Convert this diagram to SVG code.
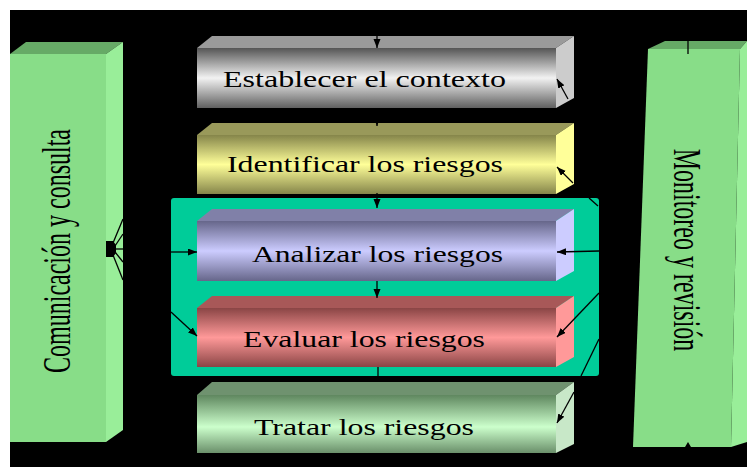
<svg xmlns="http://www.w3.org/2000/svg" width="747" height="467" viewBox="0 0 747 467">
<style>
.lbl{font-family:"Liberation Serif","Times New Roman",serif;fill:#000;}
.h{font-size:23px;}
.v{font-size:24px;}
.con{stroke:#000;stroke-width:1.3;fill:none;}
.arr{marker-end:url(#ah);}
</style>
<defs>
<marker id="ah" markerUnits="userSpaceOnUse" markerWidth="10" markerHeight="8" refX="9" refY="3.5" orient="auto">
<path d="M0,0 L9,3.5 L0,7 z" fill="#000"/>
</marker>
<linearGradient id="gGray" x1="0" y1="0" x2="0" y2="1">
<stop offset="0" stop-color="#555"/><stop offset="0.5" stop-color="#f2f2f2"/><stop offset="1" stop-color="#606060"/>
</linearGradient>
<linearGradient id="gYel" x1="0" y1="0" x2="0" y2="1">
<stop offset="0" stop-color="#85854a"/><stop offset="0.5" stop-color="#ffff99"/><stop offset="1" stop-color="#85854a"/>
</linearGradient>
<linearGradient id="gLav" x1="0" y1="0" x2="0" y2="1">
<stop offset="0" stop-color="#66668a"/><stop offset="0.5" stop-color="#ccccff"/><stop offset="1" stop-color="#66668a"/>
</linearGradient>
<linearGradient id="gRed" x1="0" y1="0" x2="0" y2="1">
<stop offset="0" stop-color="#8a4545"/><stop offset="0.5" stop-color="#ff9999"/><stop offset="1" stop-color="#8a4545"/>
</linearGradient>
<linearGradient id="gGrn" x1="0" y1="0" x2="0" y2="1">
<stop offset="0" stop-color="#5f875f"/><stop offset="0.55" stop-color="#ccffcc"/><stop offset="1" stop-color="#6a8f6a"/>
</linearGradient>
</defs>

<rect x="0" y="0" width="747" height="467" fill="#fff"/>
<rect x="10" y="10" width="737" height="457" fill="#000"/>

<g id="comunicacion">
<polygon points="10,54 26,42 123,42 106,54" fill="#66aa66"/>
<polygon points="106,54 123,42 123,430 106,442" fill="#99ee99"/>
<rect x="10" y="54" width="96" height="388" fill="#88dd88"/>
<text class="lbl v" transform="translate(70,251) rotate(-90) scale(1,1.65)" text-anchor="middle">Comunicación y consulta</text>
</g>

<g id="monitoreo">
<polygon points="648,49 665,41 747,41 740,49" fill="#66aa66"/>
<polygon points="740,49 747,41 747,442 731,447" fill="#99ee99"/>
<polygon points="648,49 740,49 731,447 633,447" fill="#88dd88"/>
<text class="lbl v" transform="translate(674,250) rotate(90) scale(1,1.7)" text-anchor="middle">Monitoreo y revisión</text>
</g>

<g id="grupo-analisis">
<rect x="171" y="198" width="428" height="178" rx="3" fill="#00cc99"/>
</g>

<g id="establecer">
<polygon points="197,48 212,36 574,36 556,48" fill="#9a9a9a"/>
<polygon points="556,48 574,36 574,98 556,108" fill="#cccccc"/>
<rect x="197" y="48" width="359" height="60" fill="url(#gGray)"/>
<text class="lbl h" x="223" y="87" textLength="283" lengthAdjust="spacingAndGlyphs">Establecer el contexto</text>
</g>

<g id="identificar">
<polygon points="197,135 212,123 574,123 556,135" fill="#99995a"/>
<polygon points="556,135 574,123 574,184 556,194" fill="#ffff99"/>
<rect x="197" y="135" width="359" height="59" fill="url(#gYel)"/>
<text class="lbl h" x="227" y="172" textLength="276" lengthAdjust="spacingAndGlyphs">Identificar los riesgos</text>
</g>

<g id="analizar">
<polygon points="197,221 212,209 574,209 556,221" fill="#8080a8"/>
<polygon points="556,221 574,209 574,271 556,281" fill="#ccccff"/>
<rect x="197" y="221" width="359" height="60" fill="url(#gLav)"/>
<text class="lbl h" x="252" y="262" textLength="251" lengthAdjust="spacingAndGlyphs">Analizar los riesgos</text>
</g>

<g id="evaluar">
<polygon points="197,308 212,296 574,296 556,308" fill="#a85858"/>
<polygon points="556,308 574,296 574,357 556,367" fill="#ff9999"/>
<rect x="197" y="308" width="359" height="59" fill="url(#gRed)"/>
<text class="lbl h" x="243" y="347" textLength="242" lengthAdjust="spacingAndGlyphs">Evaluar los riesgos</text>
</g>

<g id="tratar">
<polygon points="197,395 212,382 574,382 556,395" fill="#6f926f"/>
<polygon points="556,395 574,382 574,444 556,453" fill="#c8e8c8"/>
<rect x="197" y="395" width="359" height="58" fill="url(#gGrn)"/>
<text class="lbl h" x="254" y="435" textLength="220" lengthAdjust="spacingAndGlyphs">Tratar los riesgos</text>
</g>

<g id="connectors">
<line class="con arr" x1="377" y1="35" x2="377" y2="48"/>
<line class="con arr" x1="377" y1="108" x2="377" y2="126"/>
<line class="con arr" x1="377" y1="193" x2="377" y2="208"/>
<line class="con arr" x1="377" y1="281" x2="377" y2="298"/>
<line class="con" x1="378" y1="367" x2="378" y2="382"/>

<polygon points="106,241 113,241 116,245 116,253 113,257 106,257" fill="#000"/>
<line class="con" x1="113" y1="243" x2="123" y2="219"/>
<line class="con" x1="115" y1="246" x2="123" y2="234"/>
<line class="con" x1="116" y1="249" x2="123" y2="249"/>
<line class="con" x1="115" y1="252" x2="123" y2="262"/>
<line class="con" x1="113" y1="255" x2="123" y2="280"/>
<line class="con arr" x1="171" y1="252" x2="197" y2="252"/>
<line class="con arr" x1="171" y1="312" x2="197" y2="336"/>

<line class="con arr" x1="568" y1="99" x2="557" y2="79"/>
<line class="con arr" x1="573" y1="183" x2="557" y2="167"/>
<line class="con arr" x1="599" y1="251" x2="557" y2="252"/>
<line class="con arr" x1="599" y1="293" x2="557" y2="337"/>
<line class="con" x1="599" y1="339" x2="581" y2="376"/>
<line class="con arr" x1="574" y1="392" x2="557" y2="423"/>
<line class="con" x1="589" y1="198" x2="598" y2="206"/>

<line class="con" x1="688" y1="41" x2="688" y2="54"/>
<polygon points="685,447 688,442 691,447" fill="#000"/>
</g>
</svg>
